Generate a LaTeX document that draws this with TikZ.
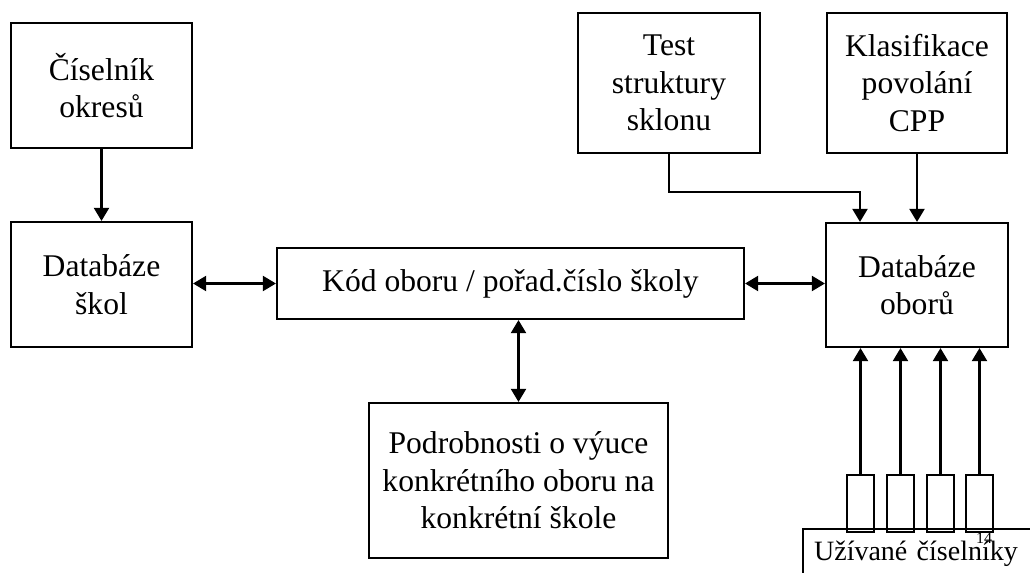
\documentclass[tikz,border=0pt]{standalone}
\usepackage{fontspec}
\setmainfont{Liberation Serif}
\usetikzlibrary{arrows.meta, calc}

\tikzset{
  box/.style={draw, line width=1.1pt, align=center, inner sep=0pt, font=\fontsize{15.8}{18.8}\selectfont},
  tab/.style={draw, line width=1.1pt, minimum width=13.5pt, minimum height=28.5pt, inner sep=0pt},
  arr/.style={line width=1.1pt, -{Triangle[length=6.5pt,width=7.5pt]}},
  dbl/.style={line width=1.1pt, {Triangle[length=6.5pt,width=7.5pt]}-{Triangle[length=6.5pt,width=7.5pt]}}
}

\begin{document}
\begin{tikzpicture}[x=0.5pt, y=-0.5pt]
  \useasboundingbox (0,0) rectangle (1030,573);
  \clip (0,0) rectangle (1030,573);

  % Box centres
  \coordinate (O) at (101.5,85.5);
  \coordinate (S) at (101.5,284.5);
  \coordinate (K) at (510.5,283.5);
  \coordinate (P) at (518.5,480.5);
  \coordinate (T) at (669,83);
  \coordinate (C) at (917,83);
  \coordinate (D) at (917,285);

  % Boxes
  \node[box, minimum width=90.5pt, minimum height=62.5pt] (okresy) at (O) {Číselník\\okresů};
  \node[box, minimum width=90.5pt, minimum height=62.5pt] (skoly) at (S) {Databáze\\škol};
  \node[box, minimum width=233.5pt, minimum height=35.5pt] (kod) at (K) {Kód oboru / pořad.číslo školy};
  \node[box, minimum width=149.5pt, minimum height=77.5pt] (podrobnosti) at (P) {Podrobnosti o výuce\\konkrétního oboru na\\konkrétní škole};
  \node[box, minimum width=91pt, minimum height=70pt] (test) at (T) {Test\\struktury\\sklonu};
  \node[box, minimum width=90pt, minimum height=70pt] (klasifikace) at (C) {Klasifikace\\povolání\\CPP};
  \node[box, minimum width=91pt, minimum height=62pt] (obory) at (D) {Databáze\\oborů};

  % Small tabs and the list of code tables
  \foreach \i/\x in {1/860.5, 2/900.5, 3/940.5, 4/979.5}
    \node[tab] (tab\i) at (\x,503.5) {};
  \node[box, font=\fontsize{14}{16}\selectfont, anchor=base west, text width=125pt, align=left,
        inner xsep=5.5pt, text height=15.5pt, text depth=25pt] (uzivane) at (802,560) {Užívané číselníky};
  \node[font=\fontsize{8}{9}\selectfont, inner sep=0pt] (page) at (984,538) {14};

  % Connectors
  \draw[arr] (okresy) -- (skoly);
  \draw[dbl] (skoly.east |- kod.west) -- (kod.west);
  \draw[dbl] (kod.east) -- (obory.west |- kod.east);
  \draw[dbl] (kod.south -| podrobnosti.north) -- (podrobnosti.north);
  \coordinate (bend) at (860,192);
  \draw[arr] (test.south) |- (bend) -- (bend |- obory.north);
  \draw[arr] (klasifikace.south) -- (klasifikace.south |- obory.north);
  \foreach \i in {1,...,4}
    \draw[arr] (tab\i.north) -- (tab\i.north |- obory.south);
\end{tikzpicture}
\end{document}
